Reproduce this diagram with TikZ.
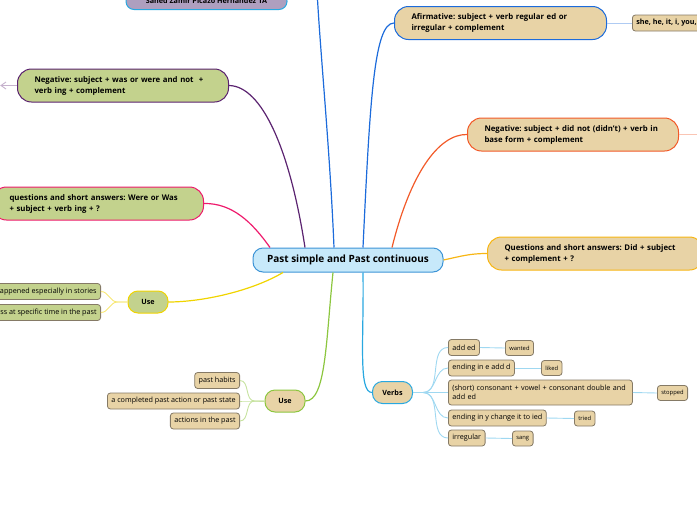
\documentclass[tikz,border=0pt]{standalone}
\usepackage{fontspec}
\setmainfont{Open Sans}
\usepackage{xcolor}
\usetikzlibrary{calc, positioning}
\frenchspacing

\definecolor{tan}{HTML}{E8D3A6}
\definecolor{olive}{HTML}{C3D28D}
\definecolor{lav}{HTML}{AE9FBF}
\definecolor{ctrfill}{HTML}{C7E9FA}
\definecolor{ctrline}{HTML}{3D94D6}
\definecolor{negpurple}{HTML}{5B2370}
\definecolor{qpink}{HTML}{EE1A6C}
\definecolor{afiblue}{HTML}{1C6BDB}
\definecolor{negorange}{HTML}{F25A29}
\definecolor{qyellow}{HTML}{F7B614}
\definecolor{verbblue}{HTML}{29A8E0}
\definecolor{usegreen}{HTML}{8CC63F}
\definecolor{useyellow}{HTML}{F0D400}
\definecolor{leafline}{HTML}{857A66}

\begin{document}
\begin{tikzpicture}[x=1pt, y=-1pt,
    topic/.style={draw, rounded corners=14pt, line width=1pt, align=left,
        font=\bfseries\fontsize{7.8}{11}\selectfont, inner xsep=17pt,
        minimum height=33pt, text width=#1},
    hub/.style={draw, rounded corners=10pt, line width=1pt,
        font=\bfseries\fontsize{7.2}{8}\selectfont,
        minimum width=40pt, minimum height=22pt, inner sep=2pt},
    leaf/.style={draw=leafline, fill=tan, rounded corners=3pt, line width=0.8pt,
        align=left, font=\fontsize{7.2}{9}\selectfont, inner xsep=4pt,
        minimum height=16pt, inner ysep=2pt},
    word/.style={leaf, font=\fontsize{5.8}{7}\selectfont, minimum height=15pt,
        inner xsep=4pt},
    branch/.style={line width=1.2pt},
    twig/.style={line width=0.9pt}]
    \useasboundingbox (0,0) rectangle (697,520);
    \clip (0,0) rectangle (697,520);

    % 1. Nút trung tâm
    \node[draw=ctrline, fill=ctrfill, rounded corners=10pt, line width=1pt,
        font=\bfseries\fontsize{10}{12}\selectfont, minimum width=190pt,
        minimum height=24pt] (ctr) at (348,260) {Past simple and Past continuous};

    % 2. Tên tác giả (bị cắt ở mép trên)
    \node[draw=verbblue, fill=lav, rounded corners=8pt, line width=1pt,
        font=\bfseries\fontsize{7.2}{8}\selectfont, minimum width=161pt,
        inner ysep=5.5pt, anchor=south] (author) at (206.5,10)
        {Sahed Zamir Picazo Hernandez 1A};
    \coordinate (upper) at (317,-10);

    % 3. Các nhánh bên trái (Past continuous)
    \node[topic=177pt, fill=olive, draw=negpurple, anchor=west] (negwas) at (17,85.5)
        {Negative: subject + was or were and not~ +\\verb ing + complement};
    \node[topic=177pt, fill=olive, draw=qpink, anchor=west] (qwas) at (-8,203.5)
        {questions and short answers: Were or Was\\+ subject + verb ing + ?};
    \node[hub, fill=olive, draw=useyellow] (useleft) at (148,302) {Use};
    \node[leaf, fill=olive, anchor=east] (story) at (101,291.5)
        {actions that happened especially in stories};
    \node[leaf, fill=olive, anchor=east] (progress) at (101,312.5)
        {an action in progress at specific time in the past};

    % 4. Các nhánh bên phải (Past simple)
    \node[topic=178pt, fill=tan, draw=afiblue, anchor=west] (afirm) at (394,23)
        {Afirmative: subject + verb regular ed or\\irregular + complement};
    \node[leaf, font=\bfseries\fontsize{7.2}{8}\selectfont, anchor=west] (pron) at (632,23)
        {she, he, it, i, you, we, they};
    \node[topic=177pt, fill=tan, draw=negorange, anchor=west] (negdid) at (467,134.5)
        {Negative: subject + did not (didn't) + verb in\\base form + complement};
    \coordinate (negmore) at (705,134.5);
    \node[topic=182pt, fill=tan, draw=qyellow, anchor=west] (qdid) at (487,253.5)
        {Questions and short answers: Did + subject\\+ complement + ?};

    % 5. Use (Past simple)
    \node[hub, fill=tan, draw=usegreen] (useright) at (285,401) {Use};
    \node[leaf, anchor=east] (habit) at (240,380.5) {past habits};
    \node[leaf, anchor=east] (done) at (240,401) {a completed past action or past state};
    \node[leaf, anchor=east] (past) at (240,421) {actions in the past};

    % 6. Verbs và ví dụ
    \node[hub, fill=tan, draw=verbblue] (verbs) at (392.5,392.5) {Verbs};
    \node[leaf, anchor=west] (ed) at (448,347.5) {add ed};
    \node[leaf, anchor=west] (ed2) at (448,368) {ending in e add d};
    \node[leaf, anchor=west, text width=176pt, minimum height=25pt] (dbl) at (448,392.5)
        {(short) consonant + vowel + consonant double and\\add ed};
    \node[leaf, anchor=west] (ied) at (448,418) {ending in y change it to ied};
    \node[leaf, anchor=west] (irr) at (448,438) {irregular};
    \node[word, anchor=west] (wanted) at (505,348) {wanted};
    \node[word, anchor=west] (liked) at (541,368) {liked};
    \node[word, anchor=west] (stopped) at (657,393) {stopped};
    \node[word, anchor=west] (tried) at (574,418.5) {tried};
    \node[word, anchor=west] (sang) at (512,438.5) {sang};

    % 7. Đường nối từ nút trung tâm
    \draw[branch, negpurple] ([xshift=-43pt]ctr.north) .. controls (290,150) and (262,86) .. (negwas.east);
    \draw[branch, qpink] ([xshift=-78pt]ctr.north) .. controls (252,222) and (232,203) .. (qwas.east);
    \draw[branch, afiblue] ([xshift=-14pt]ctr.north) .. controls (330,150) and (320,50) .. (upper);
    \draw[branch, afiblue] ([xshift=15pt]ctr.north) .. controls (370,100) and (374,23) .. (afirm.west);
    \draw[branch, negorange] ([xshift=44pt]ctr.north) .. controls (410,175) and (438,134) .. (negdid.west);
    \draw[branch, qyellow] (ctr.east) .. controls (462,256) and (470,253.5) .. (qdid.west);
    \draw[branch, useyellow] ([xshift=-65pt]ctr.south) .. controls (250,292) and (200,302) .. (useleft.east);
    \draw[branch, usegreen] ([xshift=-15pt]ctr.south) .. controls (326,340) and (326,401) .. (useright.east);
    \draw[branch, verbblue] ([xshift=15pt]ctr.south) .. controls (364,340) and (358,392.5) .. (verbs.west);

    % 8. Đường nối tới các nút con
    \draw[twig, afiblue!35] (afirm.east) -- (pron.west);
    \draw[twig, negorange!35] (negdid.east) -- (negmore);
    \draw[twig, negpurple!35] (negwas.west) -- ++(-16,0) coordinate (chev);
    \draw[twig, negpurple!35] ($(chev)+(5,-3.5)$) -- (chev) -- ($(chev)+(5,3.5)$);
    \foreach \leafnode in {story, progress}
        \draw[twig, useyellow!55] (useleft.west) -- ++(-10,0) to[out=180, in=0] (\leafnode.east);
    \foreach \leafnode in {habit, done, past}
        \draw[twig, usegreen!50] (useright.west) -- ++(-10,0) to[out=180, in=0] (\leafnode.east);
    \foreach \leafnode in {ed, ed2, dbl, ied, irr}
        \draw[twig, verbblue!45] (verbs.east) -- ++(10,0) to[out=0, in=180] (\leafnode.west);
    \foreach \from/\to in {ed/wanted, ed2/liked, dbl/stopped, ied/tried, irr/sang}
        \draw[twig, verbblue!45] (\from.east) -- (\to.west);
\end{tikzpicture}
\end{document}
